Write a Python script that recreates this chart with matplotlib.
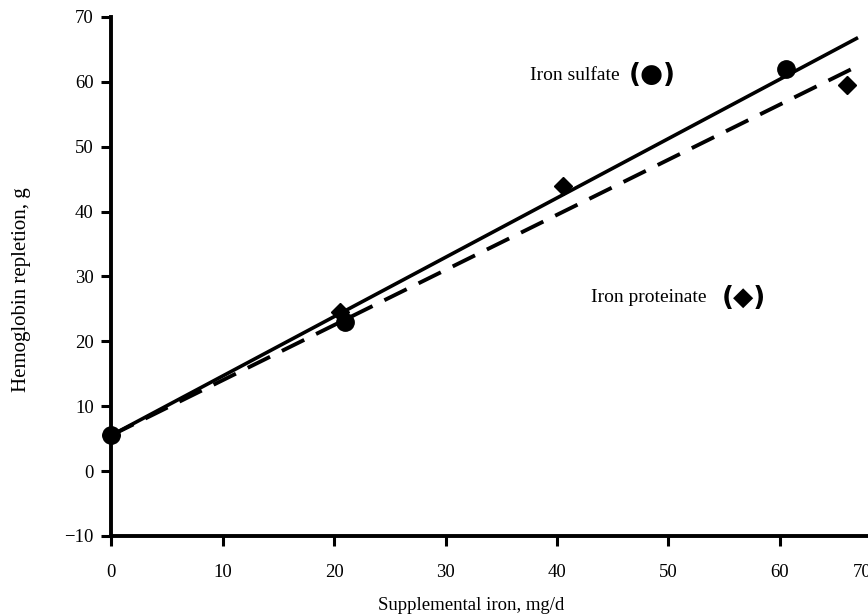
import matplotlib
matplotlib.use("Agg")
import matplotlib.pyplot as plt
from matplotlib.transforms import ScaledTranslation
import numpy as np

# data
sulfate_x = [0, 21, 60.5]
sulfate_y = [5.5, 23, 62]
proteinate_x = [0, 20.5, 40.5, 66]
proteinate_y = [5.5, 24.5, 44, 59.5]

# fitted lines (intercept, slope, x end)
sulfate_fit = (5.5, 0.915, 67)
proteinate_fit = (5.5, 0.85, 66.5)

x_ticks = [0, 10, 20, 30, 40, 50, 60, 70]
y_ticks = [-10, 0, 10, 20, 30, 40, 50, 60, 70]

plt.rcParams['font.family'] = ['Liberation Serif', 'DejaVu Serif']

fig = plt.figure(figsize=(8.68, 6.15), dpi=100)
ax = fig.add_axes([0.128, 0.1285, 0.899, 0.844])

# regression lines
xs = np.array([0, sulfate_fit[2]])
ax.plot(xs, sulfate_fit[0] + sulfate_fit[1] * xs, color='black', lw=2.6,
        solid_capstyle='butt')
xp = np.array([0, proteinate_fit[2]])
ax.plot(xp, proteinate_fit[0] + proteinate_fit[1] * xp, color='black', lw=2.8,
        dashes=(6.4, 3.4), dash_capstyle='butt')

ax.plot(proteinate_x, proteinate_y, 'D', color='black', ms=9, clip_on=False)
ax.plot(sulfate_x, sulfate_y, 'o', color='black', ms=12.5, clip_on=False)

# labels inside plot
ax.text(45.6, 61, 'Iron sulfate', fontsize=14, ha='right', va='center')
ax.text(46.4, 61, '(\u25CF)', fontsize=19, fontweight='bold', ha='left',
        va='center', family=['DejaVu Sans'])
ax.text(53.4, 26.7, 'Iron proteinate', fontsize=14, ha='right', va='center')
ax.text(54.8, 26.7, '(\u25C6)', fontsize=19, fontweight='bold', ha='left',
        va='center', family=['DejaVu Sans'])

ax.set_xlim(0, 70)
ax.set_ylim(-10, 70)
ax.set_xticks(x_ticks)
ax.set_yticks(y_ticks)
ax.tick_params(labelsize=13.5, width=2.2, length=7.5, direction='out', color='black')
ax.tick_params(axis='x', pad=13)
ax.tick_params(axis='y', pad=5)

# the last x label sits cut at the right edge in the original
last = ax.xaxis.get_major_ticks()[-1].label1
last.set_transform(last.get_transform() + ScaledTranslation(-0.295, 0, fig.dpi_scale_trans))

for s in ['top', 'right']:
    ax.spines[s].set_visible(False)
for s in ['left', 'bottom']:
    ax.spines[s].set_linewidth(2.8)

fig.text(378 / 868, 1 - 605 / 615, 'Supplemental iron, mg/d', fontsize=13.5,
         ha='left', va='center')
fig.text(22 / 868, 1 - 290 / 615, 'Hemoglobin repletion, g', fontsize=15,
         rotation=90, ha='center', va='center')

fig.savefig('out.png', dpi=100)
